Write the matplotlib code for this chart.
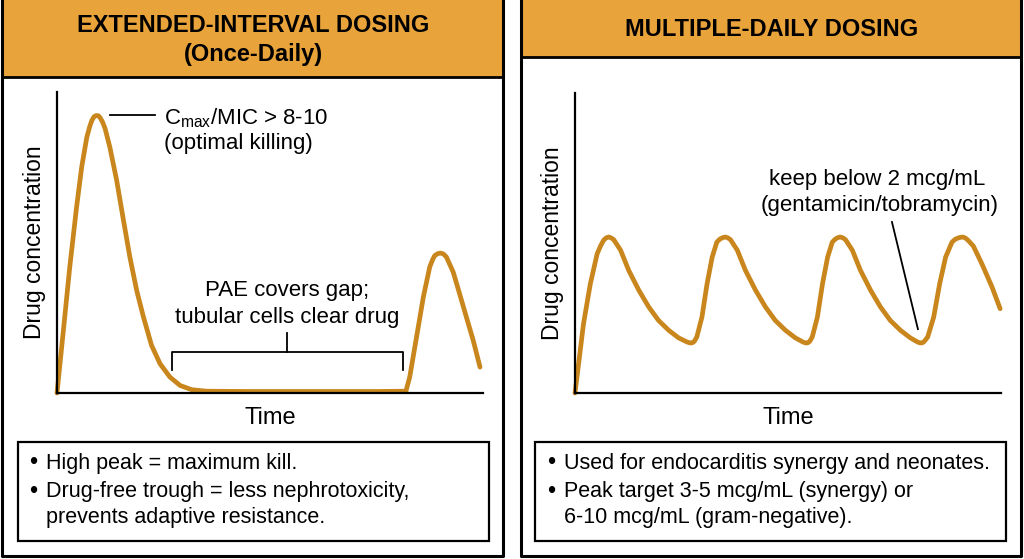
import matplotlib
matplotlib.use('Agg')
import matplotlib.pyplot as plt
from matplotlib.patches import Rectangle

plt.rcParams['font.family'] = ['Liberation Sans', 'DejaVu Sans']

# Extended-interval (once-daily) curve
ext_t = [0.0, 0.15, 0.30, 0.46, 0.58, 0.70, 0.77, 0.82, 0.87, 0.92, 0.97, 1.01,
         1.07, 1.13, 1.24, 1.40, 1.56, 1.71, 1.87, 2.03, 2.22, 2.42, 2.65,
         2.89, 3.16, 3.51, 4.5, 5.5, 6.5, 7.5, 8.19, 8.28, 8.44, 8.60, 8.75,
         8.82, 8.87, 8.94, 9.0, 9.07, 9.14, 9.30, 9.45, 9.61, 9.77, 9.93]
ext_c = [0.0, 2.08, 4.19, 6.18, 7.51, 8.50, 8.86, 9.06, 9.18, 9.22, 9.21, 9.15,
         9.00, 8.78, 8.17, 7.07, 5.74, 4.52, 3.41, 2.52, 1.58, 0.97, 0.53,
         0.25, 0.11, 0.06, 0.05, 0.05, 0.05, 0.05, 0.06, 0.53, 1.86, 3.19, 4.19,
         4.44, 4.57, 4.63, 4.65, 4.62, 4.52, 4.02, 3.30, 2.52, 1.75, 0.86]

# Multiple-daily dosing curve
mdd_t = [0.0, 0.085, 0.20, 0.36, 0.52, 0.60, 0.67, 0.73, 0.79, 0.85,
         0.91, 1.07, 1.26, 1.50, 1.73, 1.96, 2.20, 2.43, 2.63, 2.70, 2.75, 2.80,
         2.86, 2.98, 3.10, 3.22, 3.33, 3.40, 3.47, 3.53, 3.59,
         3.65, 3.81, 4.00, 4.24, 4.47, 4.70, 4.94, 5.17, 5.35, 5.41, 5.46, 5.51,
         5.57, 5.69, 5.81, 5.93, 6.04, 6.11, 6.17, 6.23, 6.29,
         6.35, 6.51, 6.70, 6.94, 7.17, 7.40, 7.64, 7.87, 8.04, 8.10, 8.15, 8.20,
         8.28, 8.42, 8.56, 8.70, 8.85, 8.93, 9.02, 9.10, 9.16,
         9.22, 9.35, 9.55, 9.79, 9.98]
mdd_c = [0.0, 0.98, 2.31, 3.64, 4.64, 4.90, 5.09, 5.17, 5.2, 5.17,
         5.11, 4.76, 4.09, 3.42, 2.87, 2.42, 2.09, 1.84, 1.70, 1.67, 1.67, 1.72,
         1.87, 2.53, 3.64, 4.53, 5.03, 5.13, 5.18, 5.2, 5.17,
         5.11, 4.76, 4.09, 3.42, 2.87, 2.42, 2.09, 1.84, 1.70, 1.67, 1.67, 1.72,
         1.87, 2.53, 3.64, 4.53, 5.03, 5.13, 5.18, 5.2, 5.17,
         5.11, 4.76, 4.09, 3.42, 2.87, 2.42, 2.09, 1.84, 1.70, 1.67, 1.67, 1.72,
         1.87, 2.53, 3.64, 4.53, 5.03, 5.13, 5.18, 5.2, 5.17,
         5.10, 4.90, 4.31, 3.53, 2.81]

titles_left = ['EXTENDED-INTERVAL DOSING', '(Once-Daily)']
title_right = 'MULTIPLE-DAILY DOSING'
notes_left = [['High peak = maximum kill.'],
              ['Drug-free trough = less nephrotoxicity,',
               'prevents adaptive resistance.']]
notes_right = [['Used for endocarditis synergy and neonates.'],
               ['Peak target 3-5 mcg/mL (synergy) or',
                '6-10 mcg/mL (gram-negative).']]

CURVE = '#C8861C'
HEADER = '#E8A33A'
W, H = 1024, 559

fig = plt.figure(figsize=(W / 100, H / 100), dpi=100)

# background layer in pixel coordinates
bg = fig.add_axes([0, 0, 1, 1])
bg.set_xlim(0, W)
bg.set_ylim(H, 0)
bg.axis('off')

# panels: (left, right, header bottom)
for (x0, x1, hb) in [(2, 503, 77), (521, 1021, 57)]:
    bg.add_patch(Rectangle((x0, 0), x1 - x0, hb, facecolor=HEADER, edgecolor='none'))
    bg.plot([x0, x1], [hb, hb], color='black', lw=2)
    bg.plot([x0, x0, x1, x1], [0, 556, 556, 0], color='black', lw=2.2)

bg.text(253, 25, titles_left[0], ha='center', va='center', fontsize=17,
        fontweight='bold')
bg.text(253, 55, titles_left[1], ha='center', va='center', fontsize=17,
        fontweight='bold')
bg.text(772, 30, title_right, ha='center', va='center', fontsize=17,
        fontweight='bold')

# note boxes
line_y = [463, 492, 518]
for (x0, x1, notes, bx) in [(18, 489, notes_left, 33), (535, 1006, notes_right, 551)]:
    bg.add_patch(Rectangle((x0, 442), x1 - x0, 99, facecolor='none',
                           edgecolor='black', lw=1.6))
    i = 0
    for item in notes:
        bg.text(bx, line_y[i], '\u2022', ha='center', va='center', fontsize=17)
        for line in item:
            bg.text(bx + 13, line_y[i], line, ha='left', va='center', fontsize=15.5)
            i += 1


def make_axes(left_px, width_px, top_px, bottom_px):
    ax = fig.add_axes([left_px / W, (H - bottom_px) / H,
                       width_px / W, (bottom_px - top_px) / H])
    ax.set_xlim(0, 10)
    ax.set_ylim(0, 10)
    ax.patch.set_alpha(0)
    for s in ['top', 'right']:
        ax.spines[s].set_visible(False)
    for s in ['left', 'bottom']:
        ax.spines[s].set_linewidth(1.6)
    ax.set_xticks([])
    ax.set_yticks([])
    return ax


# left chart
axl = make_axes(57, 426, 92, 393)
axl.plot(ext_t, ext_c, color=CURVE, lw=3.4, solid_capstyle='round',
         solid_joinstyle='round', clip_on=False)
axl.plot([1.24, 2.30], [9.24, 9.24], color='black', lw=1.3)
axl.text(2.52, 9.12, r'C$_{\mathregular{max}}$/MIC > 8-10', fontsize=16,
         ha='left', va='center')
axl.text(2.52, 8.3, '(optimal killing)', fontsize=16, ha='left', va='center')
axl.text(5.4, 3.4, 'PAE covers gap;', fontsize=16, ha='center', va='center')
axl.text(5.4, 2.5, 'tubular cells clear drug', fontsize=16, ha='center', va='center')
axl.plot([2.70, 2.70, 8.12, 8.12], [0.76, 1.36, 1.36, 0.76], color='black', lw=1.3)
axl.plot([5.4, 5.4], [1.36, 2.0], color='black', lw=1.3)
axl.set_xlabel('Time', fontsize=17, labelpad=10)
axl.set_ylabel('Drug concentration', fontsize=16.5, labelpad=8)

# right chart
axr = make_axes(575, 426, 93, 393)
axr.plot(mdd_t, mdd_c, color=CURVE, lw=3.4, solid_capstyle='round',
         solid_joinstyle='round', clip_on=False)
axr.plot([7.44, 8.05], [5.7, 2.13], color='black', lw=1.3)
axr.text(7.1, 7.1, 'keep below 2 mcg/mL', fontsize=16, ha='center', va='center')
axr.text(7.15, 6.25, '(gentamicin/tobramycin)', fontsize=16, ha='center', va='center')
axr.set_xlabel('Time', fontsize=17, labelpad=10)
axr.set_ylabel('Drug concentration', fontsize=16.5, labelpad=8)

fig.savefig('out.png', dpi=100)
